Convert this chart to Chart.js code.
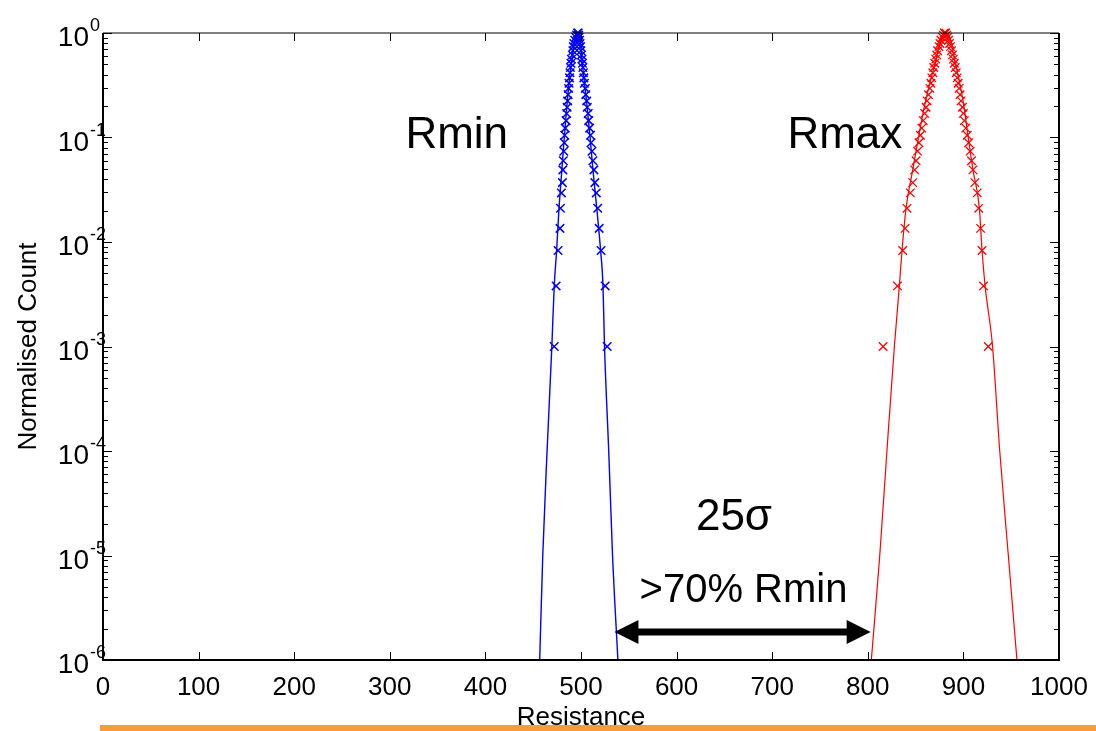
<!DOCTYPE html>
<html>
<head>
<meta charset="utf-8">
<script src="https://cdn.jsdelivr.net/npm/chart.js@4.4.0/dist/chart.umd.min.js"></script>
<style>
    html, body { margin: 0; padding: 0; background: #ffffff; }
    .chartBox { width: 1096px; height: 731px; position: relative; }
</style>
</head>
<body>
<div class="chartBox">
    <canvas id="myChart" width="1096" height="731"></canvas>
</div>
<script>
    // normalised count levels of the histogram markers (bottom -> peak)
    const countLevels = [0.001, 0.0038, 0.0083, 0.0135, 0.021, 0.0295, 0.037, 0.049, 0.06, 0.074, 0.089,
        0.105, 0.123, 0.145, 0.17, 0.195, 0.224, 0.257, 0.295, 0.331, 0.372, 0.417, 0.468, 0.513,
        0.562, 0.617, 0.676, 0.741, 0.794, 0.851, 0.912, 0.955, 1.0];

    // resistance of the markers, left and right flank, for each level above
    const rminLeft = [472, 474, 476, 478, 478.5, 479.5, 480.5, 481, 481.5, 482, 482.5, 483, 483.5, 484.5,
        485, 485.5, 486, 486.5, 487, 487.5, 488, 488.5, 489, 489.5, 490, 491, 491.5, 492, 492.5, 493.5, 494.5, 495.5, 496.5];
    const rminRight = [527.4, 525.3, 521, 519, 517.5, 516, 514.5, 513.5, 512.5, 511.5, 510.5, 510, 509, 508,
        507.5, 506.5, 506, 505, 504.5, 503.5, 503, 502.5, 502, 501.5, 501, 500.5, 500, 499.5, 499, 498.5, 498, 497.5, 497];
    const rmaxLeft = [816, 831, 836.5, 839, 841, 844.5, 847, 849, 850.5, 852, 853.5, 855, 856.5, 858,
        859.5, 861, 862, 863.5, 865, 866, 867, 868, 869, 870, 871, 872, 873, 874.5, 875.5, 876.5, 878, 879, 880];
    const rmaxRight = [926, 921, 919.5, 918, 916, 914.5, 912, 910, 908.5, 907, 905.5, 904, 902.5, 901,
        900, 899, 897.5, 896.5, 895.5, 894.5, 893.5, 892.5, 891.5, 890.5, 889.5, 888.5, 887.5, 886.5, 885.5, 884.5, 883.5, 882.5, 881.5];

    // fitted curves (levels bottom -> peak)
    const fitLevels = [1e-6, 1e-5, 1e-4, 1e-3, 0.0038, 0.0083, 0.021, 0.049, 0.1, 0.214, 0.447, 1];
    const rminFitLeft = [456.8, 460, 464.5, 469.5, 472, 474.5, 477, 480, 482.5, 485.5, 489, 496.5];
    const rminFitRight = [538.6, 533, 529, 524.6, 523, 520.5, 516.5, 512.5, 509.5, 506, 502, 497.5];
    const rmaxFitLeft = [803.7, 812.5, 820, 827.8, 833, 835.8, 840, 847, 853, 860, 868.6, 880];
    const rmaxFitRight = [956, 947, 938, 930.5, 922.7, 919.5, 916.7, 910, 905, 900, 893, 882.8];

    // axis ticks
    const xTickValues = [0, 100, 200, 300, 400, 500, 600, 700, 800, 900, 1000];
    const yExponents = [0, -1, -2, -3, -4, -5, -6];

    // annotations
    const noteTexts = ['Rmin', 'Rmax', '25\u03c3', '>70% Rmin'];
    const noteX = [370, 776, 660, 670];
    const noteY = [0.079, 0.079, 1.75e-5, 3.6e-6];
    const noteSizes = [44, 44, 44, 40];
    const arrowFrom = 535;
    const arrowTo = 803;
    const arrowLevel = 1.85e-6;

    const fontFamily = '"Liberation Sans", Arial, sans-serif';

    function markerPoints(xs) {
        return xs.map((x, i) => ({ x: x, y: countLevels[i] }));
    }

    function fitPoints(left, right) {
        const pts = left.map((x, i) => ({ x: x, y: fitLevels[i] }));
        for (let i = right.length - 1; i >= 0; i--) {
            pts.push({ x: right[i], y: fitLevels[i] });
        }
        return pts;
    }

    const decorPlugin = {
        id: 'decor',
        beforeDraw(chart) {
            const ctx = chart.ctx;
            ctx.save();
            ctx.fillStyle = '#f89b3c';
            ctx.fillRect(100, 725, 996, 6);
            ctx.restore();
        },
        afterDatasetsDraw(chart) {
            const ctx = chart.ctx;
            const xs = chart.scales.x;
            const ys = chart.scales.y;
            const a = chart.chartArea;
            ctx.save();

            // box
            ctx.strokeStyle = '#000000';
            ctx.lineWidth = 1.2;
            ctx.beginPath();
            ctx.moveTo(a.left, a.top);
            ctx.lineTo(a.right, a.top);
            ctx.stroke();
            ctx.lineWidth = 2;
            ctx.beginPath();
            ctx.moveTo(a.left, a.top);
            ctx.lineTo(a.left, a.bottom);
            ctx.lineTo(a.right, a.bottom);
            ctx.lineTo(a.right, a.top);
            ctx.stroke();

            // inward ticks
            ctx.lineWidth = 1;
            ctx.beginPath();
            xTickValues.forEach(v => {
                const px = Math.round(xs.getPixelForValue(v)) + 0.5;
                ctx.moveTo(px, a.bottom);
                ctx.lineTo(px, a.bottom - 8);
                ctx.moveTo(px, a.top);
                ctx.lineTo(px, a.top + 8);
            });
            yExponents.forEach(e => {
                for (let m = 1; m <= 9; m++) {
                    const v = m * Math.pow(10, e);
                    if (v > 1.0001) continue;
                    const py = Math.round(ys.getPixelForValue(v)) + 0.5;
                    const len = m === 1 ? 9 : 5;
                    ctx.moveTo(a.left, py);
                    ctx.lineTo(a.left + len, py);
                    ctx.moveTo(a.right, py);
                    ctx.lineTo(a.right - len, py);
                }
            });
            ctx.stroke();

            // y tick labels with superscript exponent
            ctx.fillStyle = '#000000';
            yExponents.forEach(e => {
                const py = ys.getPixelForValue(Math.pow(10, e));
                ctx.font = '28px ' + fontFamily;
                ctx.textAlign = 'right';
                ctx.textBaseline = 'alphabetic';
                ctx.fillText('10', 89, py + 13);
                ctx.font = '18px ' + fontFamily;
                ctx.textAlign = 'left';
                ctx.fillText(e === 0 ? '0' : '-' + Math.abs(e), 90, py - 2);
            });

            // annotation texts
            noteTexts.forEach((t, i) => {
                ctx.font = noteSizes[i] + 'px ' + fontFamily;
                ctx.textAlign = 'center';
                ctx.textBaseline = 'alphabetic';
                ctx.fillText(t, xs.getPixelForValue(noteX[i]), ys.getPixelForValue(noteY[i]));
            });

            // double arrow
            const x1 = xs.getPixelForValue(arrowFrom);
            const x2 = xs.getPixelForValue(arrowTo);
            const ay = ys.getPixelForValue(arrowLevel);
            ctx.lineWidth = 7;
            ctx.beginPath();
            ctx.moveTo(x1 + 20, ay);
            ctx.lineTo(x2 - 20, ay);
            ctx.stroke();
            ctx.beginPath();
            ctx.moveTo(x1, ay);
            ctx.lineTo(x1 + 24, ay - 12);
            ctx.lineTo(x1 + 24, ay + 12);
            ctx.closePath();
            ctx.moveTo(x2, ay);
            ctx.lineTo(x2 - 24, ay - 12);
            ctx.lineTo(x2 - 24, ay + 12);
            ctx.closePath();
            ctx.fill();

            ctx.restore();
        }
    };

    new Chart('myChart', {
        type: 'scatter',
        data: {
            datasets: [
                {
                    label: 'Rmin fit',
                    data: fitPoints(rminFitLeft, rminFitRight),
                    showLine: true,
                    borderColor: '#0000ff',
                    borderWidth: 1.4,
                    pointRadius: 0,
                    cubicInterpolationMode: 'monotone'
                },
                {
                    label: 'Rmax fit',
                    data: fitPoints(rmaxFitLeft, rmaxFitRight),
                    showLine: true,
                    borderColor: '#ff0000',
                    borderWidth: 1.2,
                    pointRadius: 0,
                    cubicInterpolationMode: 'monotone'
                },
                {
                    label: 'Rmin',
                    data: markerPoints(rminLeft).concat(markerPoints(rminRight)),
                    pointStyle: 'crossRot',
                    pointRadius: 6,
                    borderColor: '#0000ff',
                    backgroundColor: '#0000ff',
                    pointBorderWidth: 1.5,
                    clip: 8
                },
                {
                    label: 'Rmax',
                    data: markerPoints(rmaxLeft).concat(markerPoints(rmaxRight)),
                    pointStyle: 'crossRot',
                    pointRadius: 6,
                    borderColor: '#ff0000',
                    backgroundColor: '#ff0000',
                    pointBorderWidth: 1.3,
                    clip: 8
                }
            ]
        },
        options: {
            responsive: false,
            animation: false,
            devicePixelRatio: 1,
            layout: { padding: { top: 33, right: 37, left: 0, bottom: 0 } },
            plugins: {
                legend: { display: false },
                tooltip: { enabled: false }
            },
            scales: {
                x: {
                    type: 'linear',
                    min: 0,
                    max: 1000,
                    grid: { display: false, drawTicks: false },
                    border: { display: false },
                    ticks: {
                        stepSize: 100,
                        autoSkip: false,
                        maxRotation: 0,
                        padding: 12,
                        color: '#000000',
                        font: { family: fontFamily, size: 26 },
                        callback: (v) => String(v)
                    },
                    title: {
                        display: true,
                        text: 'Resistance',
                        color: '#000000',
                        padding: 0,
                        font: { family: fontFamily, size: 26, lineHeight: 1 }
                    },
                    afterFit(scale) {
                        scale.height = 71;
                        scale.paddingRight = 0;
                        scale.paddingLeft = 0;
                    }
                },
                y: {
                    type: 'logarithmic',
                    min: 1e-6,
                    max: 1,
                    grid: { display: false, drawTicks: false },
                    border: { display: false },
                    ticks: { display: false },
                    title: {
                        display: true,
                        text: 'Normalised Count',
                        color: '#000000',
                        padding: { top: 13, bottom: 0 },
                        font: { family: fontFamily, size: 26, lineHeight: 1.2 }
                    },
                    afterFit(scale) { scale.width = 103; }
                }
            }
        },
        plugins: [decorPlugin]
    });
</script>
</body>
</html>
